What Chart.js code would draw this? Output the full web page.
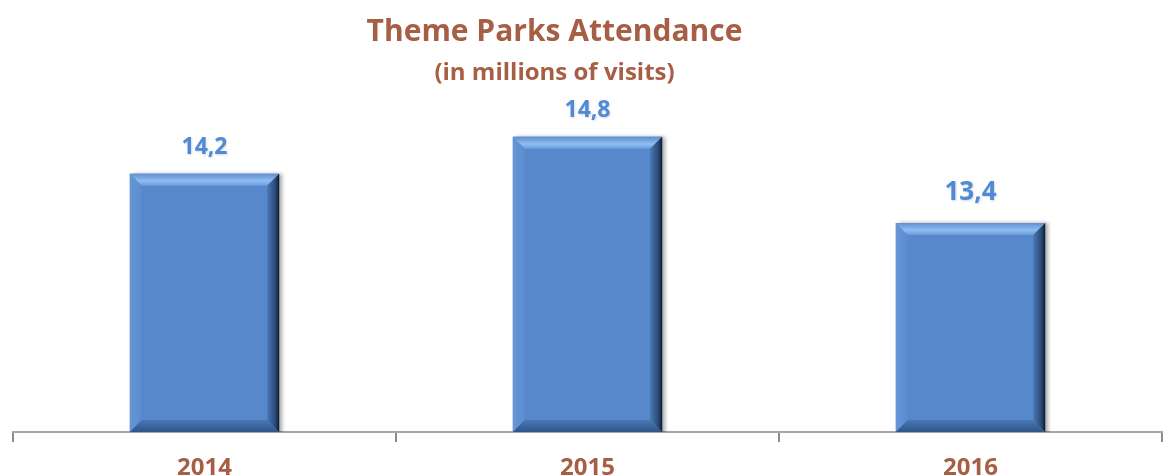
<!DOCTYPE html>
<html>
<head>
<meta charset="utf-8">
<script src="https://cdn.jsdelivr.net/npm/chart.js@4/dist/chart.umd.min.js"></script>
<style>
  html, body { margin: 0; padding: 0; background: #fff; }
  #wrap { width: 1165px; height: 476px; }
</style>
</head>
<body>
<div id="wrap"><canvas id="attendance-chart"></canvas></div>
<script>
// data
const years = ['2014', '2015', '2016'];
const visits = [14.2, 14.8, 13.4];
const yMin = 10;
const yMax = 15.5;

const BROWN = '#a65e45';
const BLUE_TEXT = '#4f8ad8';
const BAR_BLUE = '#5688cb';
const FONT = '"Open Sans", Lato, sans-serif';

// the title block sits a bit left of the chart centre in the original
const shiftTitles = {
    id: 'shiftTitles',
    afterLayout(chart) {
        chart.boxes
            .filter(box => box.options && typeof box.options.text === 'string')
            .forEach(box => { box.left -= 33; box.right -= 33; });
    }
};

// bevel look of the Excel bars + value labels
const bevelBars = {
    id: 'bevelBars',
    beforeDatasetsDraw(chart) {
        const ctx = chart.ctx;
        ctx.save();
        ctx.shadowColor = 'rgba(0,0,0,0.35)';
        ctx.shadowBlur = 4;
        ctx.shadowOffsetX = 3;
        ctx.shadowOffsetY = 0;
    },
    afterDatasetsDraw(chart) {
        const ctx = chart.ctx;
        ctx.restore();
        const meta = chart.getDatasetMeta(0);
        const b = 12;
        meta.data.forEach((bar, i) => {
            const l = bar.x - bar.width / 2, r = bar.x + bar.width / 2;
            const t = bar.y, bot = Math.min(bar.base, chart.chartArea.bottom);

            const poly = (pts, fill) => {
                ctx.beginPath();
                ctx.moveTo(pts[0][0], pts[0][1]);
                pts.slice(1).forEach(p => ctx.lineTo(p[0], p[1]));
                ctx.closePath();
                ctx.fillStyle = fill;
                ctx.fill();
            };

            // left
            let g = ctx.createLinearGradient(l, 0, l + b, 0);
            g.addColorStop(0, '#6896d6');
            g.addColorStop(1, '#5a8ccf');
            poly([[l, t], [l + b, t + b], [l + b, bot - b], [l, bot]], g);
            // top
            g = ctx.createLinearGradient(0, t, 0, t + b);
            g.addColorStop(0, '#5f8fd2');
            g.addColorStop(0.6, '#8fbcf1');
            g.addColorStop(1, '#6a9bdd');
            poly([[l, t], [r, t], [r - b, t + b], [l + b, t + b]], g);
            // bottom
            g = ctx.createLinearGradient(0, bot - b, 0, bot);
            g.addColorStop(0, '#4a77b4');
            g.addColorStop(1, '#2f5588');
            poly([[l, bot], [l + b, bot - b], [r - b, bot - b], [r, bot]], g);
            // right
            g = ctx.createLinearGradient(r - b, 0, r, 0);
            g.addColorStop(0, '#4a78b6');
            g.addColorStop(0.7, '#2a4772');
            g.addColorStop(1, '#0d1829');
            poly([[r, t], [r, bot], [r - b, bot - b], [r - b, t + b]], g);

            // value label
            const size = i === 2 ? 26 : 23;
            ctx.save();
            ctx.font = `bold ${size}px ${FONT}`;
            ctx.fillStyle = BLUE_TEXT;
            ctx.textAlign = 'center';
            ctx.textBaseline = 'middle';
            ctx.shadowColor = 'rgba(0,0,0,0.15)';
            ctx.shadowBlur = 2;
            ctx.shadowOffsetX = 1;
            ctx.shadowOffsetY = 1;
            const off = i === 2 ? 30 : 26;
            ctx.fillText(visits[i].toFixed(1).replace('.', ','), bar.x, t - off);
            ctx.restore();
        });
    }
};

const ctx = document.getElementById('attendance-chart').getContext('2d');
new Chart(ctx, {
    type: 'bar',
    data: {
        labels: years,
        datasets: [{
            label: 'Attendance',
            data: visits,
            backgroundColor: BAR_BLUE,
            borderWidth: 0,
            categoryPercentage: 0.78,
            barPercentage: 0.5
        }]
    },
    options: {
        responsive: true,
        maintainAspectRatio: false,
        animation: false,
        layout: { padding: { top: 10, left: 13, right: 3, bottom: 0 } },
        plugins: {
            legend: { display: false },
            tooltip: { enabled: false },
            title: {
                display: true,
                text: 'Theme Parks Attendance',
                color: BROWN,
                font: { family: FONT, size: 30, weight: 'bold' },
                padding: { top: 4, bottom: 4 }
            },
            subtitle: {
                display: true,
                text: '(in millions of visits)',
                color: BROWN,
                font: { family: FONT, size: 24, weight: 'bold' },
                padding: { top: 5, bottom: 6 }
            }
        },
        scales: {
            x: {
                afterFit: scale => { scale.height = 44; },
                grid: {
                    offset: true,
                    drawOnChartArea: false,
                    drawTicks: true,
                    tickLength: 10,
                    color: '#8c8c8c',
                    lineWidth: 2
                },
                border: { display: true, color: '#a6a6a6', width: 2 },
                ticks: {
                    color: BROWN,
                    font: { family: FONT, size: 24, weight: 'bold' },
                    padding: 12
                }
            },
            y: {
                display: false,
                min: yMin,
                max: yMax
            }
        }
    },
    plugins: [shiftTitles, bevelBars]
});
</script>
</body>
</html>
